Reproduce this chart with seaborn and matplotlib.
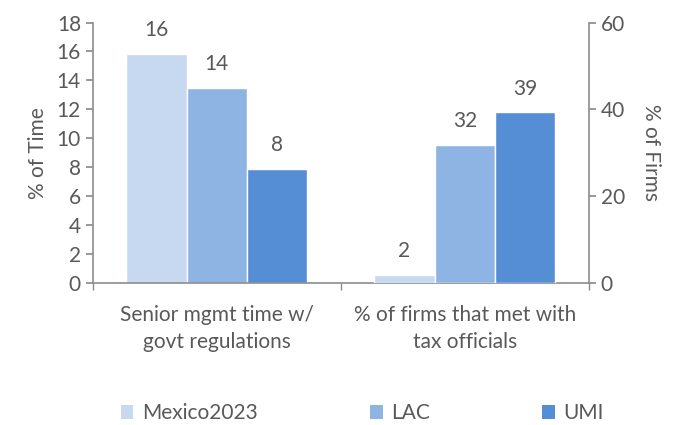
import pandas as pd
import seaborn as sns
import matplotlib
matplotlib.use("Agg")
import matplotlib.pyplot as plt
from matplotlib.patches import Patch

# data
categories = ["Senior mgmt time w/\ngovt regulations", "% of firms that met with\ntax officials"]
series = ["Mexico2023", "LAC", "UMI"]
time_vals = [15.8, 13.5, 7.9]    # left axis, % of time
firms_vals = [1.9, 31.8, 39.3]   # right axis, % of firms
colors = ["#C6D9F1", "#8EB4E3", "#558ED5"]

sns.set_theme(style="white")
plt.rcParams["font.family"] = ["Lato", "DejaVu Sans"]
txt = "#595959"
axcol = "#8C8C8C"
fs = 15

df_time = pd.DataFrame({"cat": categories[0], "series": series, "value": time_vals})
df_firms = pd.DataFrame({"cat": categories[1], "series": series, "value": firms_vals})

fig = plt.figure(figsize=(6.77, 4.25), dpi=100)
ax = fig.add_axes([0.137, 0.334, 0.733, 0.613])
ax2 = ax.twinx()

sns.barplot(data=df_time, x="cat", y="value", hue="series", order=categories,
            hue_order=series, palette=colors, width=0.73, ax=ax, legend=False,
            saturation=1, edgecolor="white", linewidth=1)
sns.barplot(data=df_firms, x="cat", y="value", hue="series", order=categories,
            hue_order=series, palette=colors, width=0.73, ax=ax2, legend=False,
            saturation=1, edgecolor="white", linewidth=1)

for a in (ax, ax2):
    for c in a.containers:
        a.bar_label(c, fmt="%.0f", padding=10, fontsize=fs, color=txt)

ax.set_ylim(0, 18)
ax.set_yticks(range(0, 19, 2))
ax2.set_ylim(0, 60)
ax2.set_yticks([0, 20, 40, 60])
ax.set_xlim(-0.5, 1.5)

ax.set_ylabel("% of Time", fontsize=fs, color=txt, labelpad=6)
ax2.set_ylabel("% of Firms", fontsize=fs, color=txt, rotation=270, labelpad=26)
ax.set_xlabel("")
ax2.set_xlabel("")

ax.set_xticks([0, 1])
ax.set_xticklabels(categories, fontsize=fs, color=txt, linespacing=1.45)
ax.set_xticks([-0.5, 0.5, 1.5], minor=True)
ax.tick_params(axis="x", which="major", length=0, pad=16)
ax.tick_params(axis="x", which="minor", length=5, color=axcol, direction="out", bottom=True)
ax.tick_params(axis="y", labelsize=fs, labelcolor=txt, length=5, color=axcol, direction="out", left=True)
ax2.tick_params(axis="y", labelsize=fs, labelcolor=txt, length=5, color=axcol, direction="out", right=True)

for a in (ax, ax2):
    for s in a.spines.values():
        s.set_visible(False)
ax.spines["left"].set_visible(True)
ax.spines["bottom"].set_visible(True)
ax2.spines["right"].set_visible(True)
for s in (ax.spines["left"], ax.spines["bottom"], ax2.spines["right"]):
    s.set_color(axcol)
    s.set_linewidth(1.2)
ax.grid(False)
ax2.grid(False)

handles = [Patch(facecolor=c, edgecolor="none") for c in colors]
fig.legend(handles, series, loc="center", bbox_to_anchor=(0.535, 0.028), ncol=3,
           frameon=False, fontsize=fs, labelcolor=txt, handlelength=0.6,
           handleheight=0.7, handletextpad=0.4, columnspacing=5.4)

fig.savefig("out.png", dpi=100)
